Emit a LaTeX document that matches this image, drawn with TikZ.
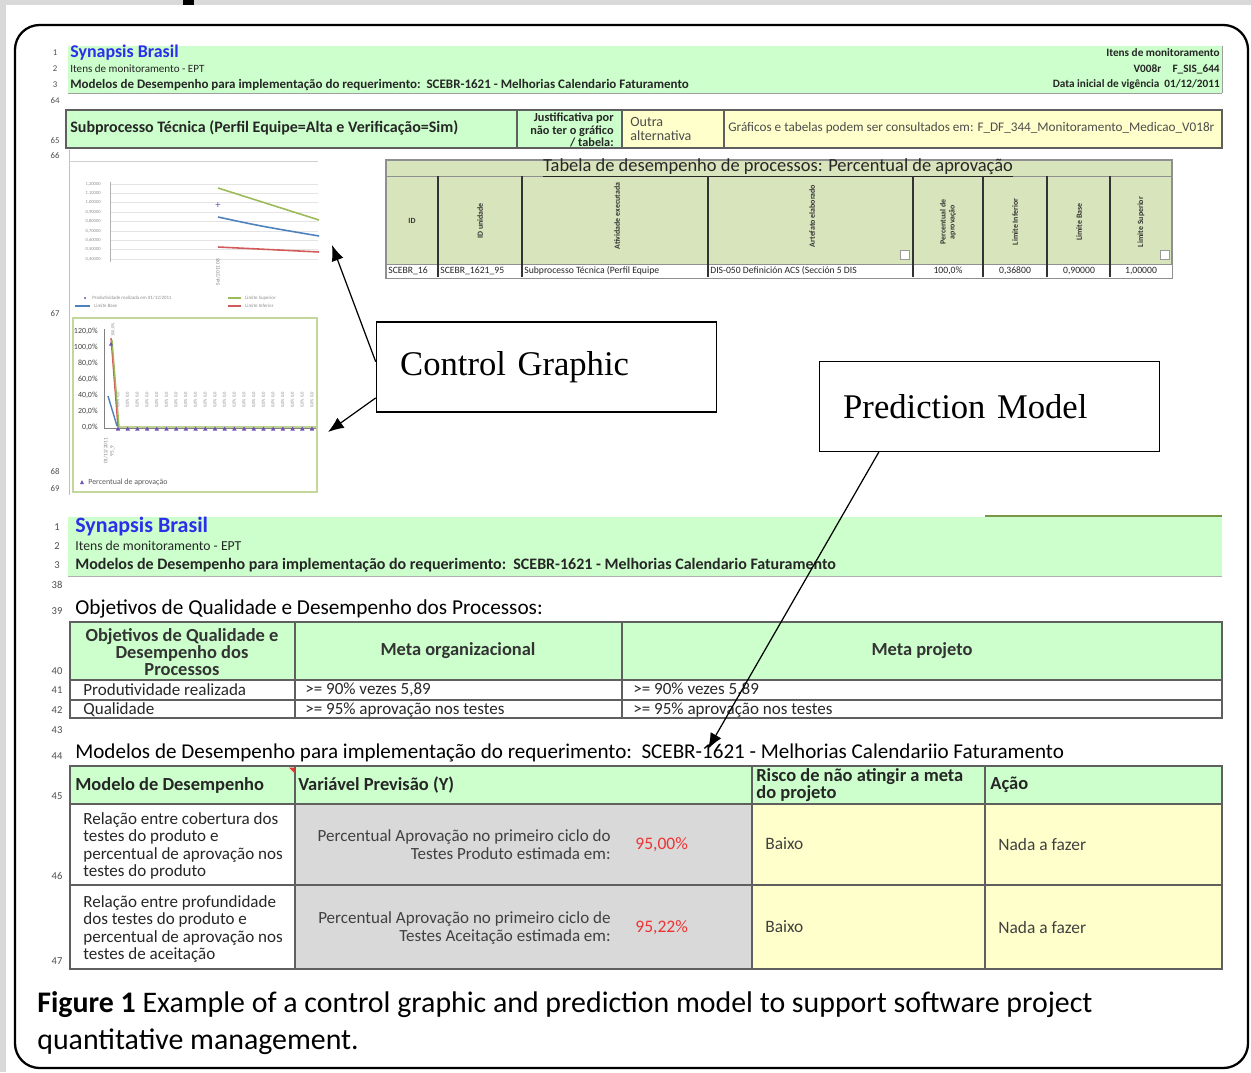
\documentclass[tikz,border=0pt]{standalone}
\usepackage{fontspec}
\setmainfont{Carlito}
\newfontfamily\timesfont{Liberation Serif}
\usetikzlibrary{arrows.meta}
\definecolor{xlgreen}{RGB}{204,255,204}
\definecolor{tabgreen}{RGB}{216,228,188}
\definecolor{xlyellow}{RGB}{255,255,204}
\definecolor{xlgray}{RGB}{217,217,217}
\definecolor{cellline}{RGB}{95,95,95}
\definecolor{xlblue}{RGB}{45,45,235}
\definecolor{xlred}{RGB}{240,50,50}
\definecolor{chartframe}{RGB}{196,215,155}
\definecolor{gridgray}{RGB}{228,228,228}
\definecolor{limsup}{RGB}{155,187,89}
\definecolor{limbase}{RGB}{79,129,189}
\definecolor{liminf}{RGB}{210,90,90}
\definecolor{purplemark}{RGB}{112,80,180}
\newcommand\fsz[2]{\fontsize{#1}{#2}\selectfont}

\begin{document}
\begin{tikzpicture}[x=0.02cm,y=-0.02cm,
    cell/.style={draw=cellline,line width=0.9pt},
    rownum/.style={font=\fsz{5}{6},text=black!70,inner sep=0pt},
    txt/.style={anchor=west,inner sep=0pt,text=black!85},
    rtxt/.style={anchor=east,inner sep=0pt,text=black!85,align=right},
    vlabel/.style={rotate=90,inner sep=0pt,font=\bfseries\fsz{4.5}{5},text=black!80},
    body/.style={txt,font=\fsz{9.7}{9.9}},
    head/.style={font=\bfseries\fsz{10.5}{9.9},text=black!80},
    callout/.style={draw,line width=0.9pt,fill=white,align=left,text width=166.5pt,
        inner xsep=13.5pt,minimum height=51pt,font=\timesfont\fsz{19.7}{24}},
    pointer/.style={-{Latex[length=9pt,width=7pt]},line width=0.7pt}]
    \useasboundingbox (0,0) rectangle (1251,1072);

    % page edge and frame
    \fill[xlgray] (0,0) rectangle (1251,5);
    \fill[xlgray] (0,0) rectangle (6,1072);
    \fill[black] (183,0) rectangle (194,5);
    \draw[line width=1.3pt,rounded corners=14pt] (15,25) rectangle (1248,1068);

    % ---- upper sheet: header ----
    \fill[xlgreen] (68,46) rectangle (1222,93);
    \draw[cellline!60] (68,93) -- (1222,93) (1222,46) -- (1222,93);
    \foreach \n/\y in {1/53,2/69,3/85,64/101,65/141,66/156,67/314,68/472,69/489}
        \node[rownum] (rna\n) at (55,\y) {\n};
    \node[txt,text=xlblue,font=\bfseries\fsz{10.2}{11}] (titA) at (70,53) {Synapsis Brasil};
    \node[txt,font=\fsz{6.3}{7}] (monA) at (70,69) {Itens de monitoramento - EPT};
    \node[txt,font=\bfseries\fsz{7.4}{8}] (reqA) at (70,85) {Modelos de Desempenho para implementação do requerimento:\ \ SCEBR-1621 - Melhorias Calendario Faturamento};
    \node[rtxt,font=\bfseries\fsz{6.4}{7}] (itA) at (1220,53) {Itens de monitoramento};
    \node[rtxt,font=\bfseries\fsz{6.4}{7}] (verA) at (1220,69) {V008r\quad F\_SIS\_644};
    \node[rtxt,font=\bfseries\fsz{6.4}{7}] (datA) at (1220,85) {Data inicial de vigência\ \ 01/12/2011};

    % row 65
    \draw[cell,fill=xlgreen] (66,110) rectangle (517,148);
    \draw[cell,fill=xlgreen] (517,110) rectangle (622,148);
    \draw[cell,fill=xlyellow] (622,110) rectangle (724,148);
    \draw[cell,fill=xlyellow] (724,110) rectangle (1222,148);
    \node[txt,font=\bfseries\fsz{9.1}{10}] (subp) at (70,128) {Subprocesso Técnica (Perfil Equipe=Alta e Verificação=Sim)};
    \node[rtxt,font=\bfseries\fsz{7}{7.1}] (just) at (614,130) {Justificativa por\\não ter o gráfico\\/ tabela:};
    \node[txt,align=left,font=\fsz{8}{8.5},text=black!70] (outra) at (630,129) {Outra\\alternativa};
    \node[txt,font=\fsz{7.5}{8},text=black!70] (graf) at (728,128) {Gráficos e tabelas podem ser consultados em: F\_DF\_344\_Monitoramento\_Medicao\_V018r};
    \draw[cellline!40] (69,150) -- (69,495);
    \draw[cellline!30] (69,161) -- (318,161);

    % tabela de desempenho
    \draw[cellline!70,fill=tabgreen,line width=0.8pt] (386,160) rectangle (1172,278);
    \draw[cellline!70] (386,176) -- (1172,176);
    \node[font=\fsz{10.5}{11},text=black!85] (tabtit) at (778,168) {\underline{Tabela de desempenho de processos: Percentual de aprovação}};
    \foreach \x in {438,522,708,913,983,1047,1110}
        \draw[black!80,line width=0.6pt] (\x,176) -- (\x,277);
    \node[font=\bfseries\fsz{4.5}{5},text=black!80] (hid) at (412,221) {ID};
    \node[vlabel] (hun) at (480,221) {ID unidade};
    \node[vlabel] (hat) at (617,216) {Atividade executada};
    \node[vlabel] (har) at (812,216) {Artefato elaborado};
    \node[vlabel,align=center] (hpe) at (948,222) {Percentual de\\aprovação};
    \node[vlabel] (hli) at (1015,222) {Limite Inferior};
    \node[vlabel] (hlb) at (1079,222) {Limite Base};
    \node[vlabel] (hls) at (1141,222) {Limite Superior};
    \foreach \x in {905,1165}
        \draw[black!40,fill=white,line width=0.3pt] (\x-5,250) rectangle (\x+4,259);
    \fill[white] (386.5,264) rectangle (1171.5,277.5);
    \draw[cellline!70] (386,264) -- (1172,264);
    \foreach \x in {438,522,708,913,983,1047,1110}
        \draw[black!80,line width=0.6pt] (\x,264) -- (\x,277);
    \node[txt,font=\fsz{5.5}{6}] (d1) at (388,271) {SCEBR\_16};
    \node[txt,font=\fsz{5.5}{6}] (d2) at (440,271) {SCEBR\_1621\_95};
    \node[txt,font=\fsz{5.5}{6}] (d3) at (524,271) {Subprocesso Técnica (Perfil Equipe};
    \node[txt,font=\fsz{5.5}{6}] (d4) at (710,271) {DIS-050 Definición ACS (Sección 5 DIS};
    \node[font=\fsz{5.5}{6},text=black!85] (d5) at (948,271) {100,0\%};
    \node[font=\fsz{5.5}{6},text=black!85] (d6) at (1015,271) {0,36800};
    \node[font=\fsz{5.5}{6},text=black!85] (d7) at (1079,271) {0,90000};
    \node[font=\fsz{5.5}{6},text=black!85] (d8) at (1141,271) {1,00000};

    % chart: limits
    \foreach \i/\v in {0/{1,20000},1/{1,10000},2/{1,00000},3/{0,90000},4/{0,80000},5/{0,70000},6/{0,60000},7/{0,50000},8/{0,40000}} {
        \draw[gridgray,line width=0.4pt] (110,184+9.4*\i) -- (318,184+9.4*\i);
        \node[anchor=east,inner sep=0pt,font=\fsz{2.6}{3},text=black!45] (ya\i) at (101,184+9.4*\i) {\v};
    }
    \draw[black!30,line width=0.4pt] (110,182) -- (110,262);
    \draw[limsup,line width=0.9pt] (218,188) -- (319,220);
    \draw[limbase,line width=0.9pt] (218,217) .. controls (260,226) .. (319,236);
    \draw[liminf,line width=0.9pt] (218,247) -- (319,252);
    \node[purplemark,font=\fsz{6}{6},inner sep=0pt] (pa) at (218,206) {+};
    \node[rotate=90,inner sep=0pt,font=\fsz{3}{3.5},text=black!50] (xa) at (218,272) {Set/2011 08};
    \fill[purplemark] (85,298) circle (1.2);
    \node[txt,font=\fsz{2.8}{3},text=black!45] (lga) at (92,298) {Produtividade realizada em 01/12/2011};
    \draw[limsup,line width=0.9pt] (228,298) -- (241,298);
    \node[txt,font=\fsz{2.8}{3},text=black!45] (lgb) at (245,298) {Limite Superior};
    \draw[limbase,line width=0.9pt] (75,306) -- (90,306);
    \node[txt,font=\fsz{2.8}{3},text=black!45] (lgc) at (94,306) {Limite Base};
    \draw[liminf,line width=0.9pt] (228,306) -- (241,306);
    \node[txt,font=\fsz{2.8}{3},text=black!45] (lgd) at (245,306) {Limite Inferior};

    % chart: percentual de aprovacao
    \draw[chartframe,line width=0.9pt] (73,318) rectangle (317,492);
    \foreach \i/\v in {0/{120,0},1/{100,0},2/{80,0},3/{60,0},4/{40,0},5/{20,0},6/{0,0}}
        \node[anchor=east,inner sep=0pt,font=\fsz{4.5}{5},text=black!75] (yb\i) at (98,331+16*\i) {\v\%};
    \draw[black!50,line width=0.4pt] (104,329) -- (104,428) -- (316,428);
    \draw[liminf,line width=0.8pt] (111,338) -- (118,427);
    \draw[limsup,line width=0.8pt] (112,340) -- (119,427) -- (316,427);
    \draw[limbase,line width=0.8pt] (108,396) -- (117,426);
    \fill[purplemark] (111,342) -- ++(-2,3.5) -- ++(4,0) -- cycle;
    \node[rotate=90,inner sep=0pt,font=\fsz{2.6}{3},text=black!45] (db0) at (113,330) {100,0\%};
    \foreach \i in {0,...,20} {
        \fill[purplemark] (118+9.7*\i,426.5) -- ++(-2.2,4) -- ++(4.4,0) -- cycle;
        \node[rotate=90,inner sep=0pt,font=\fsz{2.6}{3},text=black!45] (dl\i) at (118+9.7*\i,400) {0,0\% 0,0};
    }
    \node[rotate=90,inner sep=0pt,font=\fsz{3}{3.5},text=black!50,align=center] (xb) at (109,451) {01/12/2011\\95\_9};
    \fill[purplemark] (82,480) -- ++(-2,4) -- ++(4,0) -- cycle;
    \node[txt,font=\fsz{4.5}{5},text=black!65] (lge) at (88,482) {Percentual de aprovação};

    % ---- lower sheet: header ----
    \draw[limsup!80!black,line width=1pt] (985,516) -- (1222,516);
    \fill[xlgreen] (68,517) rectangle (1222,576);
    \draw[cellline!50] (68,576) -- (1222,576);
    \foreach \n/\y in {1/527,2/546,3/565,38/585,39/611,40/671,41/690,42/710,43/730,44/756,45/796,46/876,47/961}
        \node[rownum,font=\fsz{6}{7}] (rnb\n) at (57,\y) {\n};
    \node[txt,text=xlblue,font=\bfseries\fsz{12.5}{13}] (titB) at (75,527) {Synapsis Brasil};
    \node[txt,font=\fsz{7.8}{8}] (monB) at (75,546) {Itens de monitoramento - EPT};
    \node[txt,font=\bfseries\fsz{9.1}{10}] (reqB) at (75,565) {Modelos de Desempenho para implementação do requerimento:\ \ SCEBR-1621 - Melhorias Calendario Faturamento};

    % objetivos
    \node[txt,font=\fsz{12.1}{13},text=black] (objtit) at (75,609) {Objetivos de Qualidade e Desempenho dos Processos:};
    \draw[cell,fill=xlgreen] (70,622) rectangle (1222,680);
    \draw[cell] (70,680) rectangle (1222,700);
    \draw[cell] (70,700) rectangle (1222,718);
    \draw[cell] (295,622) -- (295,718) (622,622) -- (622,718);
    \node[head,align=center] (oh1) at (182,652) {Objetivos de Qualidade e\\Desempenho dos\\Processos};
    \node[head] (oh2) at (458,651) {Meta organizacional};
    \node[head] (oh3) at (922,651) {Meta projeto};
    \node[body] (o11) at (83,690) {Produtividade realizada};
    \node[body] (o12) at (305,690) {>= 90\% vezes 5,89};
    \node[body] (o13) at (633,690) {>= 90\% vezes 5,89};
    \node[body] (o21) at (83,710) {Qualidade};
    \node[body] (o22) at (305,710) {>= 95\% aprovação nos testes};
    \node[body] (o23) at (633,710) {>= 95\% aprovação nos testes};

    % modelos
    \node[txt,font=\fsz{12}{13},text=black] (modtit) at (75,753) {Modelos de Desempenho para implementação do requerimento:\ \ SCEBR-1621 - Melhorias Calendariio Faturamento};
    \draw[cell,fill=xlgreen] (70,766) rectangle (1222,804);
    \draw[cell,fill=white] (70,804) rectangle (295,885);
    \draw[cell,fill=white] (70,885) rectangle (295,969);
    \draw[cell,fill=xlgray] (295,804) rectangle (752,885);
    \draw[cell,fill=xlgray] (295,885) rectangle (752,969);
    \draw[cell,fill=xlyellow] (752,804) rectangle (985,885);
    \draw[cell,fill=xlyellow] (752,885) rectangle (985,969);
    \draw[cell,fill=xlyellow] (985,804) rectangle (1222,885);
    \draw[cell,fill=xlyellow] (985,885) rectangle (1222,969);
    \draw[cell] (295,766) -- (295,804) (752,766) -- (752,804) (985,766) -- (985,804);
    \fill[xlred] (289,767.5) -- (294.5,767.5) -- (294.5,773) -- cycle;
    \node[head,txt] (mh1) at (75,785) {Modelo de Desempenho};
    \node[head,txt] (mh2) at (298,785) {Variável Previsão (Y)};
    \node[head,txt,align=left,font=\bfseries\fsz{10.5}{9.2}] (mh3) at (756,785) {Risco de não atingir a meta\\do projeto};
    \node[head,txt] (mh4) at (990,785) {Ação};
    \node[body,align=left] (m11) at (83,846) {Relação entre cobertura dos\\testes do produto e\\percentual de aprovação nos\\testes do produto};
    \node[body,align=left] (m21) at (83,929) {Relação entre profundidade\\dos testes do produto e\\percentual de aprovação nos\\testes de aceitação};
    \node[rtxt,font=\fsz{9.7}{10.2},text=black!75] (m12) at (611,845) {Percentual Aprovação no primeiro ciclo do\\Testes Produto estimada em:};
    \node[rtxt,font=\fsz{9.7}{10.2},text=black!75] (m22) at (611,928) {Percentual Aprovação no primeiro ciclo de\\Testes Aceitação estimada em:};
    \node[txt,font=\fsz{10}{10},text=xlred] (v1) at (635,845) {95,00\%};
    \node[txt,font=\fsz{10}{10},text=xlred] (v2) at (635,928) {95,22\%};
    \node[txt,font=\fsz{9.9}{10},text=black!75] (r1) at (765,844) {Baixo};
    \node[txt,font=\fsz{9.9}{10},text=black!75] (r2) at (765,927) {Baixo};
    \node[txt,font=\fsz{9.9}{10},text=black!75] (a1) at (998,845) {Nada a fazer};
    \node[txt,font=\fsz{9.9}{10},text=black!75] (a2) at (998,928) {Nada a fazer};

    % callouts
    \node[callout] (ctrl) at (546.5,367) {Control Graphic};
    \node[callout] (pred) at (989.5,406.5) {Prediction Model};
    \coordinate (chartA) at (332,245);
    \coordinate (chartB) at (328,432);
    \coordinate (modelA) at (708,749);
    \draw[pointer] ([yshift=3pt]ctrl.west) -- (chartA);
    \draw[pointer] ([yshift=-17.6pt]ctrl.west) -- (chartB);
    \draw[pointer] ([xshift=-63pt]pred.south) -- (modelA);

    % caption
    \node[txt,font=\fsz{17}{21},text=black] (capA) at (37,1005) {\textbf{Figure 1} Example of a control graphic and prediction model to support software project};
    \node[txt,font=\fsz{17}{21},text=black] (capB) at (37,1042) {quantitative management.};
\end{tikzpicture}
\end{document}
